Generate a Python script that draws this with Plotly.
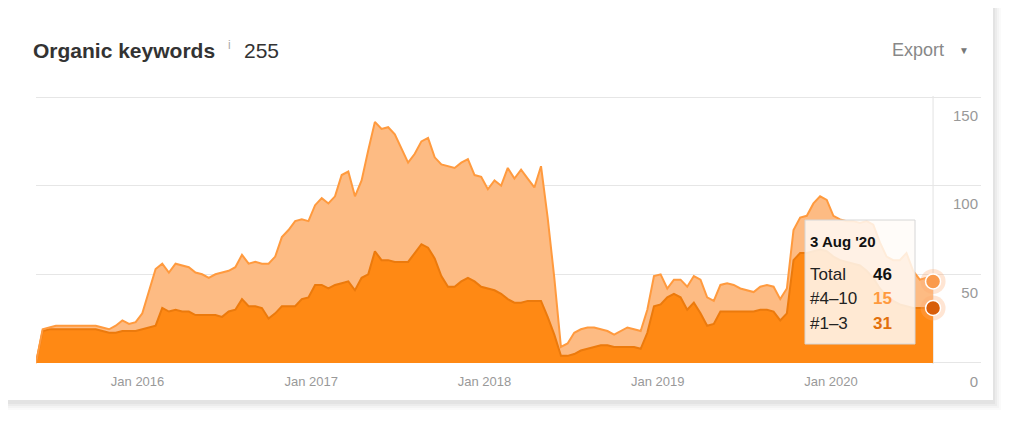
import pandas as pd
import plotly.graph_objects as go

# sample dates, every two weeks from Jun 2015 to 3 Aug 2020
dates = pd.date_range("2015-06-01", periods=136, freq="14D")

# keywords ranking in positions #1-3
pos_1_3 = [
    0, 18, 19, 19, 19, 19, 19, 19, 19, 19,
    18, 17, 17, 18, 18, 18, 19, 20, 21, 31,
    29, 30, 29, 29, 27, 27, 27, 27, 26, 29,
    30, 36, 32, 32, 31, 25, 28, 32, 32, 32,
    36, 37, 44, 44, 42, 44, 45, 46, 41, 48,
    50, 63, 58, 58, 57, 57, 57, 62, 67, 65,
    59, 49, 43, 43, 46, 48, 46, 43, 42, 41,
    39, 36, 34, 34, 35, 35, 35, 26, 16, 4,
    4, 5, 7, 8, 9, 10, 10, 9, 9, 9,
    9, 8, 17, 32, 33, 37, 39, 37, 30, 34,
    28, 21, 22, 29, 29, 29, 29, 29, 29, 30,
    30, 29, 24, 28, 58, 62, 62, 63, 64, 63,
    60, 58, 57, 56, 55, 52, 48, 42, 38, 35,
    33, 32, 31, 31, 31, 31,
]

# keywords ranking in positions #4-10
pos_4_10 = [
    0, 1, 1, 2, 2, 2, 2, 2, 2, 2,
    2, 2, 4, 6, 4, 5, 9, 20, 32, 25,
    22, 26, 26, 25, 24, 23, 21, 23, 25, 23,
    24, 25, 24, 25, 25, 31, 32, 39, 43, 48,
    45, 43, 45, 49, 48, 50, 61, 62, 53, 55,
    70, 73, 74, 75, 72, 64, 56, 56, 58, 62,
    57, 63, 68, 67, 67, 67, 60, 62, 56, 62,
    61, 74, 70, 75, 69, 64, 76, 56, 32, 5,
    7, 12, 12, 12, 11, 9, 8, 7, 9, 11,
    10, 10, 13, 17, 17, 5, 8, 10, 13, 15,
    19, 16, 13, 15, 16, 15, 13, 12, 11, 13,
    14, 14, 12, 14, 17, 20, 21, 27, 30, 29,
    23, 23, 23, 24, 24, 28, 30, 26, 22, 23,
    25, 30, 21, 16, 17, 15,
]

total_keywords = 255
y_ticks = [0, 50, 100, 150]

# page pixel layout of the plot area (page has an 8px body margin)
OFF = 8
L, R, T, B = 36, 981, 96, 364
W, H = 1008, 422


def px(x):
    return (x - L) / (R - L)


def py(y):
    return (B - y) / (B - T)


DARK = "#FF8914"
DARK_LINE = "#EC7A0C"
LIGHT = "#FDBB83"
LIGHT_LINE = "#FF9A3E"

fig = go.Figure()

fig.add_trace(
    go.Scatter(
        x=dates,
        y=pos_1_3,
        name="#1–3",
        stackgroup="one",
        mode="lines",
        line=dict(color=DARK_LINE, width=2),
        fillcolor=DARK
    )
)

fig.add_trace(
    go.Scatter(
        x=dates,
        y=pos_4_10,
        name="#4–10",
        stackgroup="one",
        mode="lines",
        line=dict(color=LIGHT_LINE, width=2),
        fillcolor=LIGHT
    )
)

last_date = dates[-1]
last_top = pos_1_3[-1]
last_mid = pos_4_10[-1]
last_total = last_top + last_mid

# hover markers at the last point
fig.add_trace(
    go.Scatter(
        x=[last_date, last_date],
        y=[last_total, last_top],
        mode="markers",
        marker=dict(size=25, color="rgba(255,170,110,0.3)"),
        hoverinfo="skip"
    )
)
fig.add_trace(
    go.Scatter(
        x=[last_date, last_date],
        y=[last_total, last_top],
        mode="markers",
        marker=dict(
            size=15,
            color=["#FA9A4C", "#D85E0A"],
            line=dict(color="white", width=1.5)
        ),
        hoverinfo="skip"
    )
)

shapes = []

# card shadow + card
for i, a in enumerate([0.02, 0.025, 0.03, 0.035]):
    g = 8 - 2 * i
    shapes.append(dict(
        type="rect", xref="paper", yref="paper", layer="below",
        x0=px(8 - g), x1=px(993 + g), y0=py(400 + g + 2), y1=py(6 - g + 2),
        line=dict(width=0), fillcolor=f"rgba(0,0,0,{a})"
    ))
shapes.append(dict(
    type="rect", xref="paper", yref="paper", layer="below",
    x0=px(8), x1=px(993), y0=py(400), y1=py(6),
    line=dict(width=0), fillcolor="white"
))

# hover line
shapes.append(dict(
    type="line", xref="x", yref="paper",
    x0=last_date, x1=last_date, y0=0, y1=1,
    line=dict(color="#e2e2e2", width=1), layer="below"
))

# tooltip box
shapes.append(dict(
    type="rect", xref="paper", yref="paper",
    x0=px(805), x1=px(915), y0=py(344), y1=py(220),
    line=dict(color="#d6d6d6", width=1),
    fillcolor="rgba(255,252,248,0.84)"
))

FONT = "Liberation Sans, Arial, sans-serif"


def note(x, y, text, size, color, bold=False, xanchor="left"):
    if bold:
        text = f"<b>{text}</b>"
    return dict(
        x=px(x), y=py(y), xref="paper", yref="paper",
        text=text, showarrow=False,
        xanchor=xanchor, yanchor="middle",
        font=dict(family=FONT, size=size, color=color)
    )


tip_date = f"{last_date.day} {last_date:%b} '{last_date:%y}"

annotations = [
    note(31, 50, "Organic keywords", 21, "#333333", bold=True),
    note(226, 45, "i", 12, "#aaaaaa"),
    note(242, 50, str(total_keywords), 21, "#333333"),
    note(946, 50, "Export", 18, "#888888", xanchor="right"),
    note(957, 50, "▼", 10, "#777777"),
    note(808, 241, tip_date, 15, "#111111", bold=True),
    note(808, 274, "Total", 17, "#222222"),
    note(871, 274, str(last_total), 17, "#111111", bold=True),
    note(808, 298, "#4–10", 17, "#222222"),
    note(871, 298, str(last_mid), 17, "#FF9A3E", bold=True),
    note(808, 323, "#1–3", 17, "#222222"),
    note(871, 323, str(last_top), 17, "#E2700C", bold=True),
]

fig.update_layout(
    width=W,
    height=H,
    margin=dict(l=L - OFF, r=W - (R - OFF), t=T - OFF, b=H - (B - OFF)),
    paper_bgcolor="white",
    plot_bgcolor="rgba(0,0,0,0)",
    showlegend=False,
    hovermode=False,
    shapes=shapes,
    annotations=annotations,
    font=dict(family=FONT)
)

fig.update_xaxes(
    range=["2015-06-01", "2020-11-12"],
    tickformat="%b %Y",
    dtick="M12",
    tick0="2016-01-01",
    showgrid=False,
    zeroline=False,
    showline=False,
    ticks="",
    ticklabelstandoff=8,
    tickfont=dict(size=13, color="#999999")
)

fig.update_yaxes(
    range=[-0.6, 150.6],
    tickvals=y_ticks,
    side="right",
    ticklabelposition="inside bottom",
    ticklabeloverflow="allow",
    ticklabelshift=8,
    showgrid=True,
    gridcolor="#e6e6e6",
    gridwidth=1,
    zeroline=False,
    showline=False,
    ticks="",
    tickfont=dict(size=15, color="#999999")
)

fig.write_html("out.html")
